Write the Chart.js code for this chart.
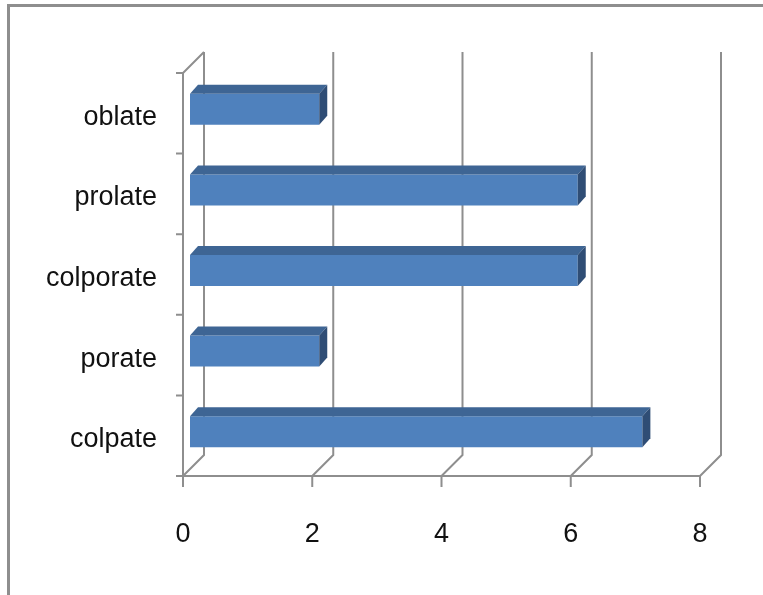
<!DOCTYPE html>
<html>
<head>
<meta charset="utf-8">
<script src="https://cdn.jsdelivr.net/npm/chart.js@4"></script>
<style>
  html, body { margin: 0; padding: 0; background: #fff; }
  #wrap { width: 763px; height: 595px; }
</style>
</head>
<body>
<div id="wrap"><canvas id="pollenChart" width="763" height="595"></canvas></div>
<script>
// valores
const categories = ['oblate', 'prolate', 'colporate', 'porate', 'colpate'];
const counts = [2, 6, 6, 2, 7];
const xMin = 0, xMax = 8, xStep = 2;

const labelFont = "'Liberation Sans', Arial, sans-serif";
const lineGrey = '#8e8e8e';
const wallDepth = 21;   // profundidade da parede de fundo
const barShift = { x: 7, y: -4 }; // barras ficam no meio da profundidade
const barDepth = { x: 8, y: 9 };

// desenha a moldura, parede de fundo e eixos "3D"
const wall3d = {
  id: 'wall3d',
  beforeDatasetsDraw(chart) {
    const ctx = chart.ctx;
    const a = chart.chartArea;
    const xs = chart.scales.x;
    ctx.save();
    ctx.strokeStyle = lineGrey;

    // moldura
    ctx.lineWidth = 3;
    ctx.strokeRect(8.5, 5.5, 900, 800);

    ctx.lineWidth = 2;
    ctx.beginPath();
    // linhas de grade no fundo + diagonais no chao
    for (let v = xMin; v <= xMax; v += xStep) {
      const fx = xs.getPixelForValue(v);
      const bx = fx + wallDepth;
      ctx.moveTo(bx, a.top - wallDepth);
      ctx.lineTo(bx, a.bottom - wallDepth);
      ctx.lineTo(fx, a.bottom);
      // marca do eixo x
      ctx.moveTo(fx, a.bottom);
      ctx.lineTo(fx, a.bottom + 11);
    }
    // diagonal no topo esquerdo
    ctx.moveTo(a.left, a.top);
    ctx.lineTo(a.left + wallDepth, a.top - wallDepth);
    // eixo y frontal
    ctx.moveTo(a.left, a.top);
    ctx.lineTo(a.left, a.bottom);
    // eixo x frontal
    ctx.moveTo(a.left, a.bottom);
    ctx.lineTo(a.right, a.bottom);
    // marcas entre categorias
    const n = categories.length;
    for (let i = 0; i <= n; i++) {
      const y = a.top + (a.bottom - a.top) * i / n;
      ctx.moveTo(a.left - 7, y);
      ctx.lineTo(a.left, y);
    }
    ctx.stroke();
    ctx.restore();

    // desloca as barras
    ctx.save();
    ctx.translate(barShift.x, barShift.y);
  },
  afterDatasetsDraw(chart) {
    const ctx = chart.ctx;
    const meta = chart.getDatasetMeta(0);
    const dx = barDepth.x, dy = barDepth.y;
    meta.data.forEach(bar => {
      const p = bar.getProps(['x', 'y', 'base', 'height'], true);
      const top = p.y - p.height / 2;
      const bot = p.y + p.height / 2;
      // face de cima
      ctx.fillStyle = '#3e6594';
      ctx.beginPath();
      ctx.moveTo(p.base, top);
      ctx.lineTo(p.x, top);
      ctx.lineTo(p.x + dx, top - dy);
      ctx.lineTo(p.base + dx, top - dy);
      ctx.closePath();
      ctx.fill();
      // face lateral
      ctx.fillStyle = '#2f4d75';
      ctx.beginPath();
      ctx.moveTo(p.x, top);
      ctx.lineTo(p.x + dx, top - dy);
      ctx.lineTo(p.x + dx, bot - dy);
      ctx.lineTo(p.x, bot);
      ctx.closePath();
      ctx.fill();
    });
    ctx.restore();
  }
};

const ctx = document.getElementById('pollenChart').getContext('2d');

new Chart(ctx, {
  type: 'bar',
  data: {
    labels: categories,
    datasets: [{
      data: counts,
      backgroundColor: '#4f81bd',
      borderWidth: 0,
      categoryPercentage: 1,
      barPercentage: 0.385,
      clip: false
    }]
  },
  plugins: [wall3d],
  options: {
    indexAxis: 'y',
    responsive: false,
    animation: false,
    events: [],
    layout: {
      padding: { left: 0, right: 63, top: 73, bottom: 0 }
    },
    plugins: {
      legend: { display: false },
      tooltip: { enabled: false },
      title: { display: false }
    },
    scales: {
      x: {
        type: 'linear',
        min: xMin,
        max: xMax,
        border: { display: false },
        grid: { display: false, drawTicks: false },
        ticks: {
          stepSize: xStep,
          color: '#111',
          padding: 42,
          font: { family: labelFont, size: 27 }
        },
        afterFit(scale) { scale.height = 119; }
      },
      y: {
        border: { display: false },
        grid: { display: false, drawTicks: false },
        ticks: {
          color: '#111',
          padding: 26,
          labelOffset: 4,
          font: { family: labelFont, size: 27 }
        },
        afterFit(scale) { scale.width = 183; }
      }
    }
  }
});
</script>
</body>
</html>
